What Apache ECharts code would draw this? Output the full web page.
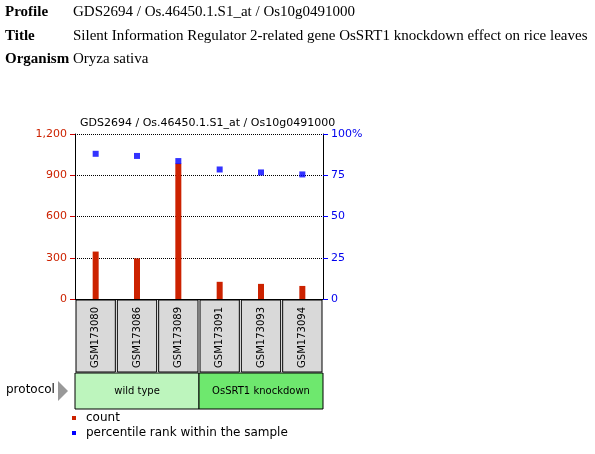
<!DOCTYPE html><html><head><meta charset="utf-8">
<script src="https://cdn.jsdelivr.net/npm/echarts@6/dist/echarts.min.js"></script>
<style>body{margin:0;background:#fff}#c{width:595px;height:454px}</style></head><body><div id="c"></div>
<script>
const samples=["GSM173080","GSM173086","GSM173089","GSM173091","GSM173093","GSM173094"];
const counts=[345,295,985,125,110,95];
const percentiles=[88,86.7,83.6,78.5,76.7,75.5];
const groups=[{name:"wild type",from:0,to:2,color:"#bdf5bd"},{name:"OsSRT1 knockdown",from:3,to:5,color:"#6ee86e"}];
const leftTicks=[0,300,600,900,1200];
const chart=echarts.init(document.getElementById('c'));
const serif='"Liberation Serif","DejaVu Serif",serif';
const sans='"DejaVu Sans",Arial,sans-serif';
const G={left:75,top:134,width:248,height:165};
chart.setOption({
 animation:false,
 title:{text:"GDS2694 / Os.46450.1.S1_at / Os10g0491000",left:75,top:113,textStyle:{fontFamily:sans,fontSize:11,fontWeight:'normal',color:'#000'}},
 grid:G,
 xAxis:{type:'category',data:samples,axisTick:{show:false},axisLine:{lineStyle:{color:'#000'}},
   axisLabel:{rotate:90,interval:0,fontFamily:sans,fontSize:10,color:'#000',margin:8,align:'right'}},
 yAxis:[{type:'value',min:0,max:1200,interval:300,splitLine:{lineStyle:{type:'dotted',color:'#000'}},
   axisLine:{show:true,lineStyle:{color:'#000'}},axisTick:{show:true,lineStyle:{color:'#c00'}},axisLabel:{color:'#cc2200',fontFamily:sans,fontSize:11}},
  {type:'value',min:0,max:100,interval:25,splitLine:{show:false},axisLine:{show:true,lineStyle:{color:'#000'}},axisTick:{show:true,lineStyle:{color:'#00f'}},
   axisLabel:{color:'#0000ee',fontFamily:sans,fontSize:11,formatter:v=>v===100?'100%':v}}],
 series:[{type:'bar',data:counts,barWidth:6,itemStyle:{color:'#cc2200'}},
  {type:'scatter',yAxisIndex:1,data:percentiles,symbol:'rect',symbolSize:6,itemStyle:{color:'#0000ff'}}]
});
const g=[];
const hdr=[["Profile","GDS2694 / Os.46450.1.S1_at / Os10g0491000",5],["Title","Silent Information Regulator 2-related gene OsSRT1 knockdown effect on rice leaves",29],["Organism","Oryza sativa",52]];
hdr.forEach(h=>{g.push({type:'text',left:5,top:h[2],style:{text:h[0],font:'bold 15px '+serif,fill:'#000'}});
 g.push({type:'text',left:73,top:h[2],style:{text:h[1],font:'15px '+serif,fill:'#000'}});});
const step=G.width/samples.length;
samples.forEach((s,i)=>{g.push({type:'rect',z:-1,shape:{x:G.left+i*step+1,y:300,width:step-2,height:72},style:{fill:'#d9d9d9',stroke:'#000'}});});
groups.forEach(gr=>{g.push({type:'rect',shape:{x:G.left+gr.from*step,y:373,width:(gr.to-gr.from+1)*step,height:36},style:{fill:gr.color,stroke:'#000'}});
 g.push({type:'text',x:G.left+(gr.from+gr.to+1)/2*step,y:391,style:{text:gr.name,font:'10px '+sans,fill:'#000',align:'center',verticalAlign:'middle'}});});
g.push({type:'text',left:6,top:384,style:{text:'protocol',font:'12px '+sans,fill:'#000'}});
g.push({type:'polygon',shape:{points:[[58,381],[58,401],[68,391]]},style:{fill:'#999'}});
g.push({type:'rect',shape:{x:72,y:416,width:4,height:4},style:{fill:'#cc2200'}});
g.push({type:'text',left:86,top:412,style:{text:'count',font:'12px '+sans,fill:'#000'}});
g.push({type:'rect',shape:{x:72,y:431,width:4,height:4},style:{fill:'#0000ff'}});
g.push({type:'text',left:86,top:427,style:{text:'percentile rank within the sample',font:'12px '+sans,fill:'#000'}});
chart.setOption({graphic:g});
</script></body></html>
